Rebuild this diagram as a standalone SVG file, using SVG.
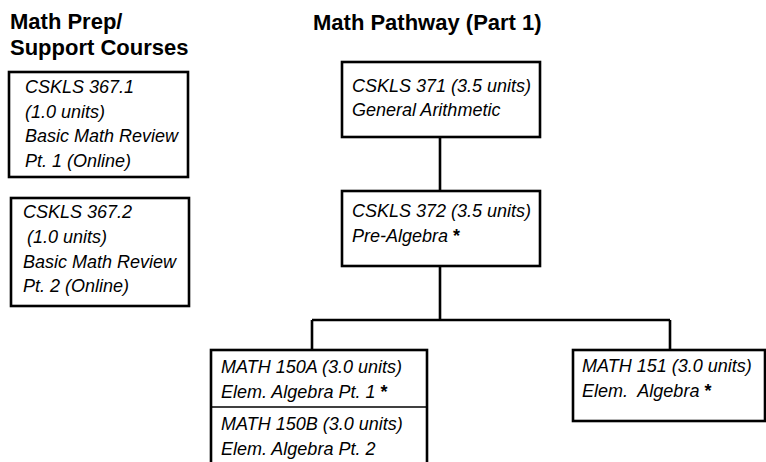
<svg xmlns="http://www.w3.org/2000/svg" width="766" height="462" viewBox="0 0 766 462">
<style>
.h{font-family:"Liberation Sans",Arial,sans-serif;font-weight:bold;font-size:22px;fill:#000}
.t{font-family:"Liberation Sans",Arial,sans-serif;font-style:italic;font-size:18px;fill:#000}
.b{fill:#fff;stroke:#000;stroke-width:2.6}
.c{fill:none;stroke:#000;stroke-width:2.6}
</style>
<rect width="766" height="462" fill="#fff"/>
<text class="h" x="10" y="29">Math Prep/</text>
<text class="h" x="10" y="55">Support Courses</text>
<text class="h" x="313" y="30">Math Pathway (Part 1)</text>
<g id="connectors">
<path class="c" d="M440 137V191M440 266V320M312 320H670M312 320V350M670 320V350"/>
</g>
<g id="cskls3671">
<rect class="b" x="9" y="72" width="179" height="105"/>
<text class="t" x="25" y="93">CSKLS 367.1</text>
<text class="t" x="25" y="118">(1.0 units)</text>
<text class="t" x="25" y="142">Basic Math Review</text>
<text class="t" x="25" y="167">Pt. 1 (Online)</text>
</g>
<g id="cskls3672">
<rect class="b" x="11" y="198" width="178" height="108"/>
<text class="t" x="23" y="218">CSKLS 367.2</text>
<text class="t" x="27" y="243">(1.0 units)</text>
<text class="t" x="23" y="268">Basic Math Review</text>
<text class="t" x="23" y="292">Pt. 2 (Online)</text>
</g>
<g id="cskls371">
<rect class="b" x="342" y="62" width="198" height="75"/>
<text class="t" x="352" y="92">CSKLS 371 (3.5 units)</text>
<text class="t" x="352" y="116">General Arithmetic</text>
</g>
<g id="cskls372">
<rect class="b" x="342" y="191" width="198" height="75"/>
<text class="t" x="352" y="217">CSKLS 372 (3.5 units)</text>
<text class="t" x="352" y="242">Pre-Algebra <tspan font-style="normal" font-weight="bold">*</tspan></text>
</g>
<g id="math150">
<rect class="b" x="211" y="350" width="216" height="130"/>
<line x1="211" y1="407" x2="427" y2="407" stroke="#000" stroke-width="1.5"/>
<text class="t" x="221" y="373">MATH 150A (3.0 units)</text>
<text class="t" x="221" y="398">Elem. Algebra Pt. 1 <tspan font-style="normal" font-weight="bold">*</tspan></text>
<text class="t" x="221" y="430">MATH 150B (3.0 units)</text>
<text class="t" x="221" y="455">Elem. Algebra Pt. 2</text>
</g>
<g id="math151">
<rect class="b" x="573" y="350" width="192" height="71"/>
<text class="t" x="582" y="372">MATH 151 (3.0 units)</text>
<text class="t" x="582" y="397" xml:space="preserve">Elem.  Algebra <tspan font-style="normal" font-weight="bold">*</tspan></text>
</g>
</svg>
